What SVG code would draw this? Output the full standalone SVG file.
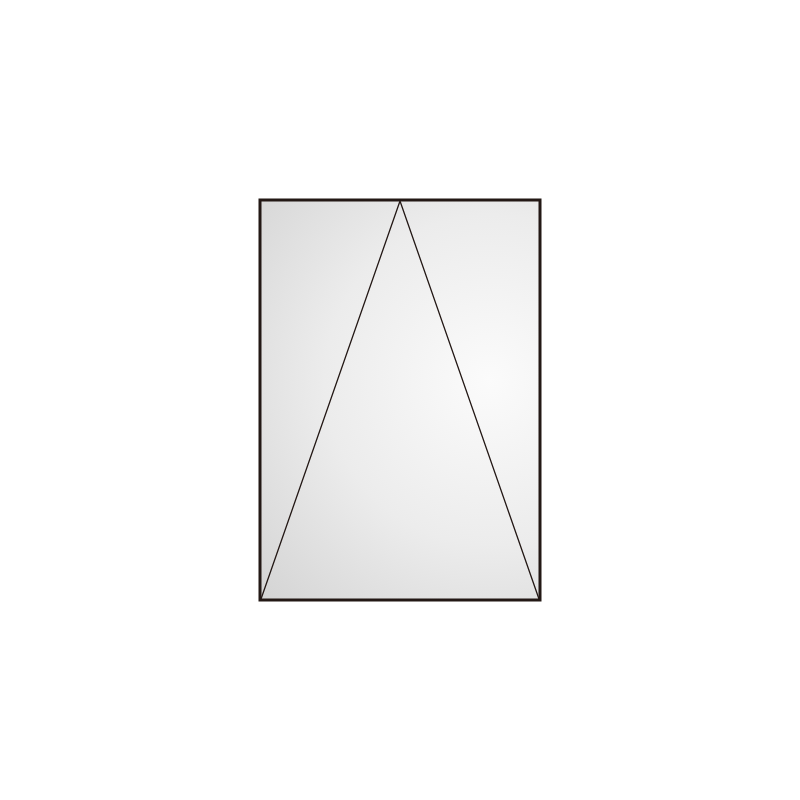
<svg xmlns="http://www.w3.org/2000/svg" width="800" height="800" viewBox="0 0 800 800">
  <defs>
    <radialGradient id="bg" gradientUnits="userSpaceOnUse" cx="490" cy="380" r="330">
      <stop offset="0" stop-color="#fbfbfb"/>
      <stop offset="0.5" stop-color="#ececec"/>
      <stop offset="1" stop-color="#d2d2d2"/>
    </radialGradient>
  </defs>
  <style>
    .frame { fill: url(#bg); stroke: #231815; stroke-width: 3; }
    .tri { fill: none; stroke: #231815; stroke-width: 1.3; stroke-linejoin: miter; }
  </style>
  <rect width="800" height="800" fill="#ffffff"/>
  <g id="frame">
    <rect class="frame" x="260" y="200" width="280" height="400"/>
  </g>
  <g id="connectors">
    <polyline class="tri" points="261,599 400,201 539,599"/>
  </g>
</svg>
